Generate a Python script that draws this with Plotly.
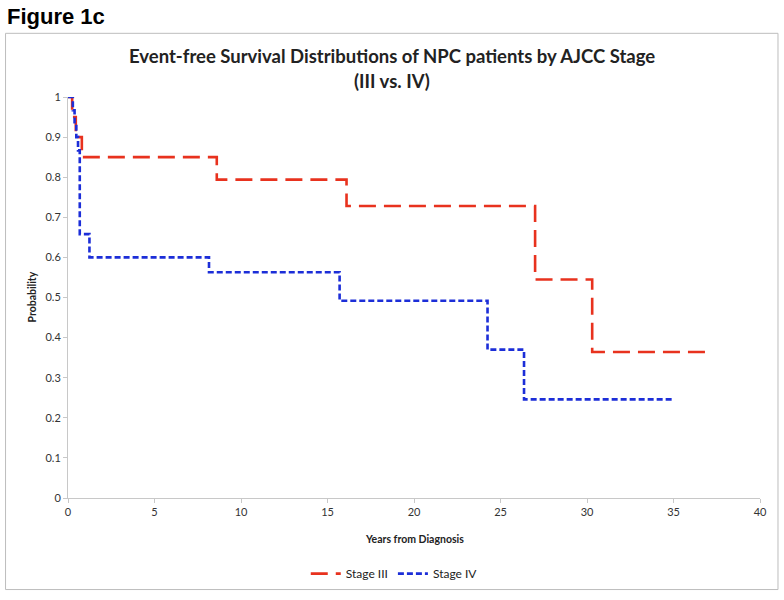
import plotly.graph_objects as go

# Data (Kaplan-Meier step functions)
stage3_years = [0, 0.24, 0.45, 0.80, 8.6, 16.1, 27.0, 30.3, 37.0]
stage3_prob = [1.0, 0.95, 0.90, 0.85, 0.794, 0.728, 0.545, 0.364, 0.364]

stage4_years = [0, 0.28, 0.38, 0.48, 0.58, 0.68, 1.24, 8.15, 15.7, 24.25, 26.36, 35.05]
stage4_prob = [1.0, 0.967, 0.933, 0.90, 0.867, 0.658, 0.60, 0.563, 0.492, 0.370, 0.246, 0.246]

x_ticks = [0, 5, 10, 15, 20, 25, 30, 35, 40]
y_ticks = [0, 0.1, 0.2, 0.3, 0.4, 0.5, 0.6, 0.7, 0.8, 0.9, 1]
y_tick_labels = ["0", "0.1", "0.2", "0.3", "0.4", "0.5", "0.6", "0.7", "0.8", "0.9", "1"]

W, H = 784, 600
L, R, T, B = 67.5, 760, 97, 500

def px(x):
    return (x - L) / (R - L)

def py(y):
    return (B - y) / (B - T)

fig = go.Figure()
fig.add_trace(go.Scatter(
    x=stage3_years, y=stage3_prob, mode="lines", name="Stage III",
    line=dict(color="#E8321E", width=2.6, dash="17px,8px", shape="hv"),
))
fig.add_trace(go.Scatter(
    x=stage4_years, y=stage4_prob, mode="lines", name="Stage IV",
    line=dict(color="#1C2ED8", width=2.6, dash="6px,3px", shape="hv"),
))

axis_font = dict(family="Lato, Open Sans, sans-serif", size=11, color="#333333")

fig.update_layout(
    width=W, height=H,
    margin=dict(l=L, r=W - R, t=T, b=H - B, pad=0),
    paper_bgcolor="white", plot_bgcolor="white",
    showlegend=True,
    legend=dict(orientation="h", x=px(394), xanchor="center", y=py(576), yanchor="middle",
                font=dict(family="Lato, Open Sans, sans-serif", size=12, color="#222222"),
                itemwidth=30, bgcolor="rgba(0,0,0,0)"),
    xaxis=dict(range=[0, 40], tickvals=x_ticks, ticktext=[str(v) for v in x_ticks],
               showgrid=False, zeroline=False, showline=True, linecolor="#C8C8C8", linewidth=1,
               ticks="outside", ticklen=4, tickcolor="#C8C8C8", tickfont=axis_font),
    yaxis=dict(range=[0, 1], tickvals=y_ticks, ticktext=y_tick_labels,
               showgrid=False, zeroline=False, showline=True, linecolor="#C8C8C8", linewidth=1,
               ticks="outside", ticklen=4, tickcolor="#C8C8C8", tickfont=axis_font),
    shapes=[dict(type="rect", xref="paper", yref="paper",
                 x0=px(5), x1=px(778), y0=py(592), y1=py(33),
                 line=dict(color="#BDBDBD", width=1), fillcolor="rgba(0,0,0,0)", layer="below")],
    annotations=[
        dict(text="<b>Figure 1c</b>", xref="paper", yref="paper", x=px(4), y=py(16),
             xanchor="left", yanchor="middle", showarrow=False,
             font=dict(family="Liberation Sans, Arial, sans-serif", size=22, color="black")),
        dict(text="<b>Event-free Survival Distributions of NPC patients by AJCC Stage</b>",
             xref="paper", yref="paper", x=px(392), y=py(56), xanchor="center", yanchor="middle",
             showarrow=False, font=dict(family="Lato, Open Sans, sans-serif", size=18.5, color="#222222")),
        dict(text="<b>(III vs. IV)</b>",
             xref="paper", yref="paper", x=px(392), y=py(81), xanchor="center", yanchor="middle",
             showarrow=False, font=dict(family="Lato, Open Sans, sans-serif", size=18.5, color="#222222")),
        dict(text="<b>Years from Diagnosis</b>", xref="paper", yref="paper", x=px(414), y=py(541),
             xanchor="center", yanchor="middle", showarrow=False,
             font=dict(family="Lato, Open Sans, sans-serif", size=10.5, color="#222222")),
        dict(text="<b>Probability</b>", xref="paper", yref="paper", x=px(31), y=py(298),
             xanchor="center", yanchor="middle", showarrow=False, textangle=-90,
             font=dict(family="Lato, Open Sans, sans-serif", size=10.5, color="#222222")),
    ],
)

fig.write_html("out.html", config={"displayModeBar": False},
               post_script="document.body.style.margin='0px';")
